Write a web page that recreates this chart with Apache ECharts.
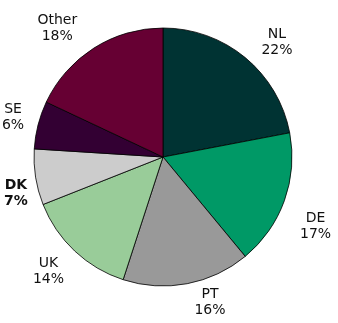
<!DOCTYPE html>
<html><head><meta charset="utf-8">
<script src="https://cdn.jsdelivr.net/npm/echarts@6/dist/echarts.min.js"></script>
<style>html,body{margin:0;padding:0;background:#fff}#c{width:338px;height:323px}</style>
</head><body><div id="c"></div>
<script>
const categories = ['NL', 'DE', 'PT', 'UK', 'DK', 'SE', 'Other'];
const values = [22, 17, 16, 14, 7, 6, 18];
const colors = ['#003333', '#009966', '#999999', '#99cc99', '#cccccc', '#330033', '#660033'];

// label nudges (layout only)
const labelOffsets = [[12, 9], [2, 15], [17, -12], [-5, -2], [11, 11], [5, 0], [-20, 6]];

const chart = echarts.init(document.getElementById('c'), null, {renderer: 'canvas'});
const data = categories.map((n, i) => ({
  name: n, value: values[i],
  itemStyle: {color: colors[i]}
}));
const labelData = categories.map((n, i) => ({
  name: n, value: values[i],
  label: Object.assign({offset: labelOffsets[i]}, n === 'DK' ? {fontWeight: 'bold'} : {})
}));
chart.setOption({
  animation: false,
  series: [
    {
      type: 'pie', center: [163, 157], radius: [0, 129],
      startAngle: 90, clockwise: true, silent: true,
      itemStyle: {borderColor: '#000', borderWidth: 0.8},
      label: {show: false}, labelLine: {show: false},
      data: data
    },
    {
      type: 'pie', center: [163, 157], radius: [150, 164],
      startAngle: 90, clockwise: true, silent: true,
      itemStyle: {color: 'rgba(0,0,0,0)', borderWidth: 0},
      label: {
        show: true, position: 'inside',
        formatter: p => p.name + '\n' + p.value + '%',
        fontFamily: 'DejaVu Sans', fontSize: 14, lineHeight: 16,
        color: '#111', align: 'center'
      },
      labelLine: {show: false},
      data: labelData
    }
  ]
});
</script></body></html>
